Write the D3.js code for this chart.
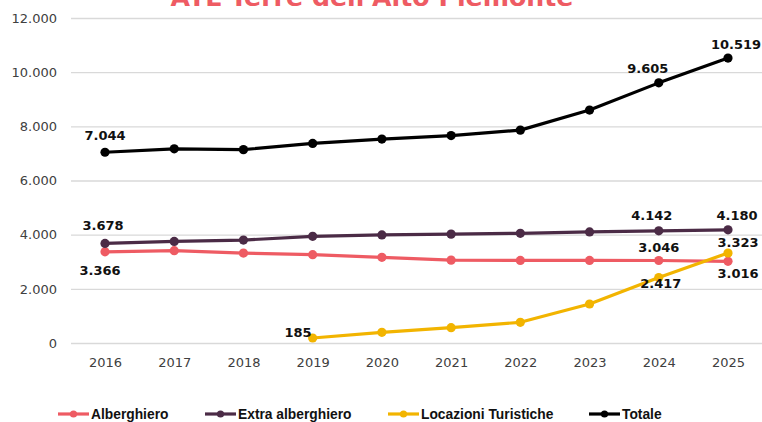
<!DOCTYPE html>
<html>
<head>
<meta charset="utf-8">
<script src="https://cdn.jsdelivr.net/npm/d3@7/dist/d3.min.js"></script>
<style>
  html, body { margin: 0; padding: 0; background: #fff; }
  svg { display: block; }
</style>
</head>
<body>
<svg id="chart" width="762" height="422"></svg>
<script>
// ---- data ----
const title = "ATL Terre dell'Alto Piemonte";
const years = [2016, 2017, 2018, 2019, 2020, 2021, 2022, 2023, 2024, 2025];
const alberghiero = [3366, 3410, 3320, 3260, 3165, 3060, 3050, 3050, 3046, 3016];
const extraAlberghiero = [3678, 3750, 3800, 3940, 3990, 4020, 4050, 4100, 4142, 4180];
const locazioniTuristiche = [null, null, null, 185, 395, 565, 765, 1440, 2417, 3323];
const totale = [7044, 7170, 7140, 7370, 7530, 7660, 7860, 8600, 9605, 10519];
const seriesNames = ["Alberghiero", "Extra alberghiero", "Locazioni Turistiche", "Totale"];
const yTicks = [0, 2000, 4000, 6000, 8000, 10000, 12000];
// years whose value is labelled, per series
const labelledYears = [
  [2016, 2024, 2025],
  [2016, 2024, 2025],
  [2019, 2024, 2025],
  [2016, 2024, 2025]
];

// ---- style ----
const colors = ["#EE5B63", "#4B2B46", "#F2B400", "#000000"];
// label offsets [dx, dy, anchor] per labelled point
const labelOffsets = [
  [[-5, 23, "middle"], [0, -9, "middle"], [10, 17, "middle"]],
  [[-2, -13, "middle"], [-7, -11, "middle"], [9, -10, "middle"]],
  [[-1, -1, "end"], [2, 10, "middle"], [10, -6, "middle"]],
  [[0, -12, "middle"], [-11, -10, "middle"], [8, -9, "middle"]]
];
const seriesData = [alberghiero, extraAlberghiero, locazioniTuristiche, totale];
const fmt = v => d3.format(",")(v).replace(/,/g, ".");
const font = "'DejaVu Sans', sans-serif";

const svg = d3.select("#chart");
const x = d3.scalePoint().domain(years).range([105, 728]);
const y = d3.scaleLinear().domain([0, 12000]).range([343, 18]);

// title (mostly clipped above the top edge, as in the reference)
const t = svg.append("text")
  .attr("x", 372).attr("y", 6)
  .attr("text-anchor", "middle")
  .attr("font-family", font).attr("font-weight", "bold")
  .attr("font-size", 24).attr("fill", "#EE5B63")
  .text(title);
const tw = t.node().getComputedTextLength();
t.attr("font-size", 24 * 403 / tw);

// grid + y axis
const yAxis = d3.axisLeft(y).tickValues(yTicks).tickFormat(fmt).tickSize(-(762 - 71)).tickPadding(14);
const gy = svg.append("g").attr("transform", "translate(71,0)").call(yAxis);
gy.select(".domain").remove();
gy.selectAll(".tick line").attr("stroke", "#d9d9d9").attr("stroke-width", 1.3);
gy.selectAll(".tick text").attr("font-family", font).attr("font-size", 13).attr("fill", "#404040");

// x axis
const xAxis = d3.axisBottom(x).tickSize(0).tickPadding(15);
const gx = svg.append("g").attr("transform", "translate(0,343)").call(xAxis);
gx.select(".domain").remove();
gx.selectAll(".tick text").attr("font-family", font).attr("font-size", 13).attr("fill", "#404040");

// lines
const line = d3.line()
  .defined(d => d.v != null)
  .x(d => x(d.year)).y(d => y(d.v));

seriesData.forEach((vals, i) => {
  const pts = years.map((yr, j) => ({ year: yr, v: vals[j] }));
  const g = svg.append("g");
  g.append("path").datum(pts)
    .attr("d", line).attr("fill", "none")
    .attr("stroke", colors[i]).attr("stroke-width", 3.2)
    .attr("stroke-linejoin", "round");
  g.selectAll("circle").data(pts.filter(d => d.v != null)).join("circle")
    .attr("cx", d => x(d.year)).attr("cy", d => y(d.v))
    .attr("r", 4.6).attr("fill", colors[i]);
});

// value labels
seriesData.forEach((vals, i) => {
  labelledYears[i].forEach((yr, k) => {
    const j = years.indexOf(yr);
    const [dx, dy, anchor] = labelOffsets[i][k];
    svg.append("text")
      .attr("x", x(yr) + dx).attr("y", y(vals[j]) + dy)
      .attr("text-anchor", anchor)
      .attr("font-family", font).attr("font-weight", "bold")
      .attr("font-size", 13).attr("fill", "#111")
      .text(fmt(vals[j]));
  });
});

// legend
const legendX = [58, 205, 388, 589];
const lg = svg.append("g").attr("transform", "translate(0,414)");
seriesNames.forEach((name, i) => {
  const g = lg.append("g").attr("transform", `translate(${legendX[i]},0)`);
  g.append("line").attr("x1", 0).attr("x2", 31).attr("y1", 0).attr("y2", 0)
    .attr("stroke", colors[i]).attr("stroke-width", 3.2);
  g.append("circle").attr("cx", 15.5).attr("cy", 0).attr("r", 3.6).attr("fill", colors[i]);
  g.append("text").attr("x", 33).attr("y", 5)
    .attr("font-family", "'Liberation Sans', Arial, sans-serif").attr("font-weight", "bold")
    .attr("font-size", 13.8).attr("fill", "#111")
    .text(name);
});
</script>
</body>
</html>
